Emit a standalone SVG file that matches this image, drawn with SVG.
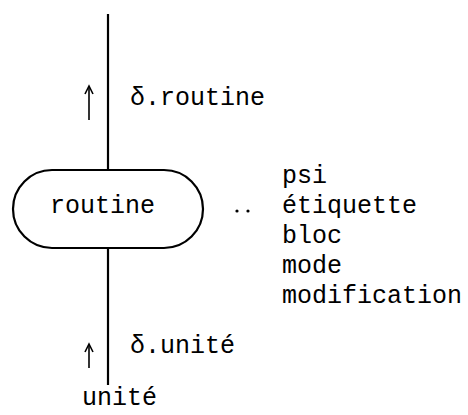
<svg xmlns="http://www.w3.org/2000/svg" width="468" height="415" viewBox="0 0 468 415">
<style>
text{font-family:"Liberation Mono","Courier New",monospace;font-size:25px;fill:#000}
.ln{stroke:#000;stroke-width:2.2;fill:none}
.ar{stroke:#000;stroke-width:1.6;fill:none}
</style>
<rect width="468" height="415" fill="#fff"/>
<g id="connectors">
<line class="ln" x1="108" y1="14" x2="108" y2="170"/>
<line class="ln" x1="108" y1="248" x2="108" y2="385"/>
<line class="ar" x1="89" y1="120" x2="89" y2="87"/>
<path class="ar" d="M85,94 L89,86 L93,94"/>
<line class="ar" x1="89" y1="368" x2="89" y2="345"/>
<path class="ar" d="M85,352 L89,344 L93,352"/>
<text x="130" y="105">δ.routine</text>
<text x="130" y="353">δ.unité</text>
</g>
<g id="routine">
<rect class="ln" x="13" y="170" width="190" height="78" rx="39" ry="39"/>
<text x="50" y="213">routine</text>
</g>
<g id="attributes">
<circle cx="237" cy="211" r="1.6" fill="#000"/>
<circle cx="248" cy="211" r="1.6" fill="#000"/>
<text x="282" y="183">psi</text>
<text x="282" y="213">étiquette</text>
<text x="282" y="243">bloc</text>
<text x="282" y="273">mode</text>
<text x="282" y="303">modification</text>
</g>
<g id="unite">
<text x="82" y="405">unité</text>
</g>
</svg>
